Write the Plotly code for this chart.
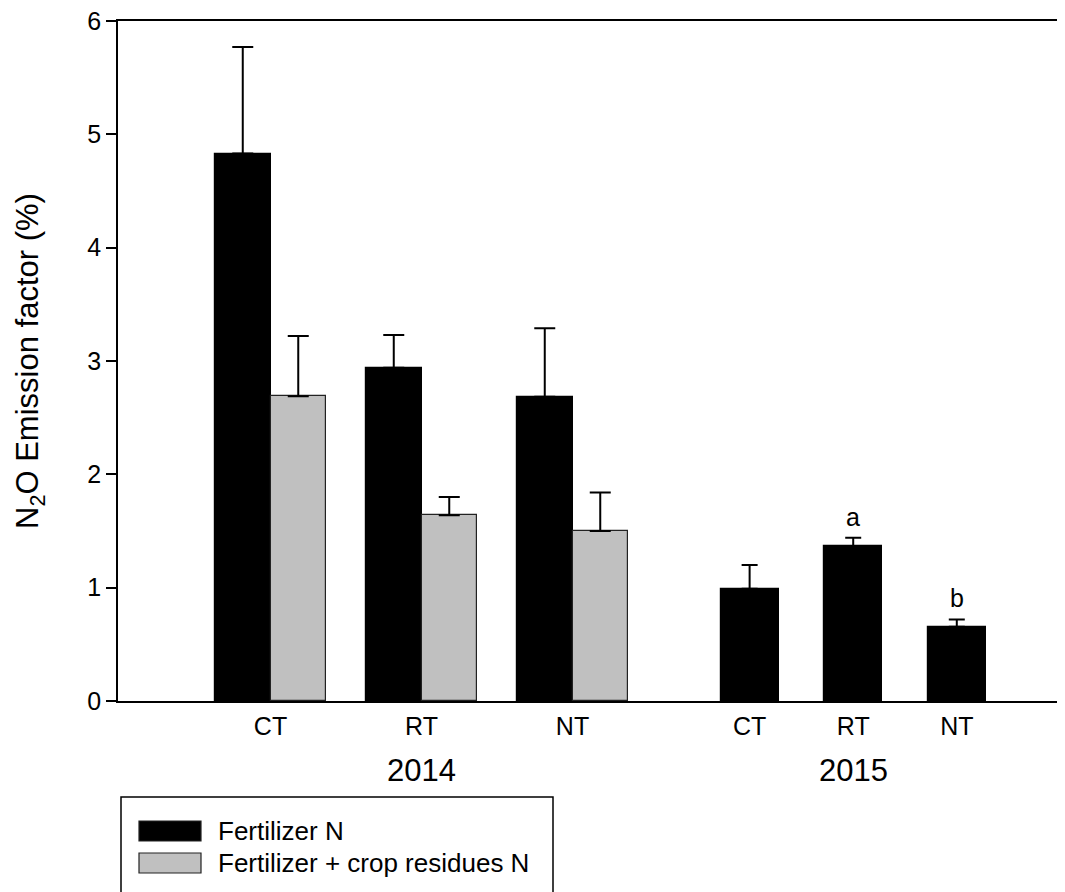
import plotly.graph_objects as go

# ---------------- data ----------------
tillage = ["CT", "RT", "NT"]
years = ["2014", "2015"]
fert_2014 = [4.83, 2.94, 2.685]
fert_2014_err = [0.94, 0.29, 0.605]
resid_2014 = [2.69, 1.64, 1.50]
resid_2014_err = [0.53, 0.16, 0.34]
fert_2015 = [0.99, 1.365, 0.656]
fert_2015_err = [0.21, 0.075, 0.064]
letters_2015 = ["", "a", "b"]
series_names = ["Fertilizer N", "Fertilizer + crop residues N"]

# ---------------- layout constants ----------------
OFF = 8                 # page body margin
W, H = 1065 - OFF, 892 - OFF
L, R, T, B = 110, 5, 13, 191
PW, PH = W - L - R, H - T - B
FONT = "Liberation Sans, Arial, sans-serif"
BLACK, GRAY = "#000000", "#c0c0c0"

bw14 = 0.3675           # bar width 2014 (group spacing = 1)
bw15 = 0.384            # bar width 2015
g14 = [0, 1, 2]         # group centres 2014
g15 = [3.173 + 0.686 * i for i in range(3)]  # bar centres 2015
xr = [-1.01, 5.2285]

def px_x(p):
    return (p - OFF - L) / PW

def px_y(p):
    return (H - B - (p - OFF)) / PH

fig = go.Figure()

fig.add_trace(go.Bar(
    x=[g - bw14 / 2 for g in g14], y=fert_2014, width=bw14,
    marker=dict(color=BLACK, line=dict(color=BLACK, width=1.2)),
    error_y=dict(type="data", symmetric=False, array=fert_2014_err,
                 arrayminus=[0] * 3, color=BLACK, thickness=2, width=10.5),
    name=series_names[0], showlegend=False))

fig.add_trace(go.Bar(
    x=[g + bw14 / 2 for g in g14], y=resid_2014, width=bw14,
    marker=dict(color=GRAY, line=dict(color="#222222", width=1.2)),
    error_y=dict(type="data", symmetric=False, array=resid_2014_err,
                 arrayminus=[0] * 3, color=BLACK, thickness=2, width=10.5),
    name=series_names[1], showlegend=False))

fig.add_trace(go.Bar(
    x=g15, y=fert_2015, width=bw15,
    marker=dict(color=BLACK, line=dict(color=BLACK, width=1.2)),
    error_y=dict(type="data", symmetric=False, array=fert_2015_err,
                 arrayminus=[0] * 3, color=BLACK, thickness=2, width=8),
    name=series_names[0] + " 2015", showlegend=False))

annotations = []
# significance letters
for xc, v, e, t in zip(g15, fert_2015, fert_2015_err, letters_2015):
    if t:
        annotations.append(dict(x=xc, y=v + e, xref="x", yref="y", text=t,
                                showarrow=False, yanchor="bottom", yshift=5,
                                font=dict(family=FONT, size=25, color=BLACK)))
# year labels
for xc, t in zip([g14[1], g15[1]], years):
    annotations.append(dict(x=xc, y=px_y(770), xref="x", yref="paper", text=t,
                            showarrow=False, yanchor="middle",
                            font=dict(family=FONT, size=31, color=BLACK)))
# y axis title
annotations.append(dict(x=px_x(30), y=0.5, xref="paper", yref="paper",
                        text="N<sub>2</sub>O Emission factor (%)", textangle=-90,
                        showarrow=False, xanchor="center", yanchor="middle",
                        font=dict(family=FONT, size=31, color=BLACK)))
# legend text
for yy, t in zip([831, 863], series_names):
    annotations.append(dict(x=px_x(216), y=px_y(yy), xref="paper", yref="paper",
                            text=t, showarrow=False, xanchor="left", yanchor="middle",
                            font=dict(family=FONT, size=26, color=BLACK)))

shapes = [
    # legend frame (bottom edge falls outside the picture)
    dict(type="rect", xref="paper", yref="paper", x0=px_x(121), x1=px_x(553),
         y0=px_y(797), y1=px_y(910), line=dict(color=BLACK, width=1.5),
         fillcolor="rgba(0,0,0,0)"),
    dict(type="rect", xref="paper", yref="paper", x0=px_x(139), x1=px_x(201),
         y0=px_y(821), y1=px_y(841), line=dict(color="#222222", width=1.2),
         fillcolor=BLACK),
    dict(type="rect", xref="paper", yref="paper", x0=px_x(139), x1=px_x(201),
         y0=px_y(853), y1=px_y(873), line=dict(color="#222222", width=1.2),
         fillcolor=GRAY),
]

fig.update_layout(
    width=W, height=H,
    margin=dict(l=L, r=R, t=T, b=B, autoexpand=False),
    paper_bgcolor="white", plot_bgcolor="white",
    barmode="overlay", bargap=0,
    font=dict(family=FONT, size=25, color=BLACK),
    annotations=annotations, shapes=shapes,
    showlegend=False,
)

fig.update_xaxes(
    range=xr, tickmode="array",
    tickvals=list(g14) + list(g15), ticktext=tillage + tillage,
    ticks="outside", ticklen=2, tickcolor="rgba(0,0,0,0)",
    showline=True, linecolor=BLACK, linewidth=1.5, mirror=True,
    showgrid=False, zeroline=False,
    tickfont=dict(family=FONT, size=25, color=BLACK),
)
fig.update_yaxes(
    range=[0, 6], tickmode="linear", tick0=0, dtick=1,
    ticks="outside", ticklen=10, tickwidth=1.5, tickcolor=BLACK,
    ticklabeloverflow="allow",
    showline=True, linecolor=BLACK, linewidth=1.5, mirror=True,
    showgrid=False, zeroline=False,
    tickfont=dict(family=FONT, size=25, color=BLACK),
)

fig.write_html("out.html")
